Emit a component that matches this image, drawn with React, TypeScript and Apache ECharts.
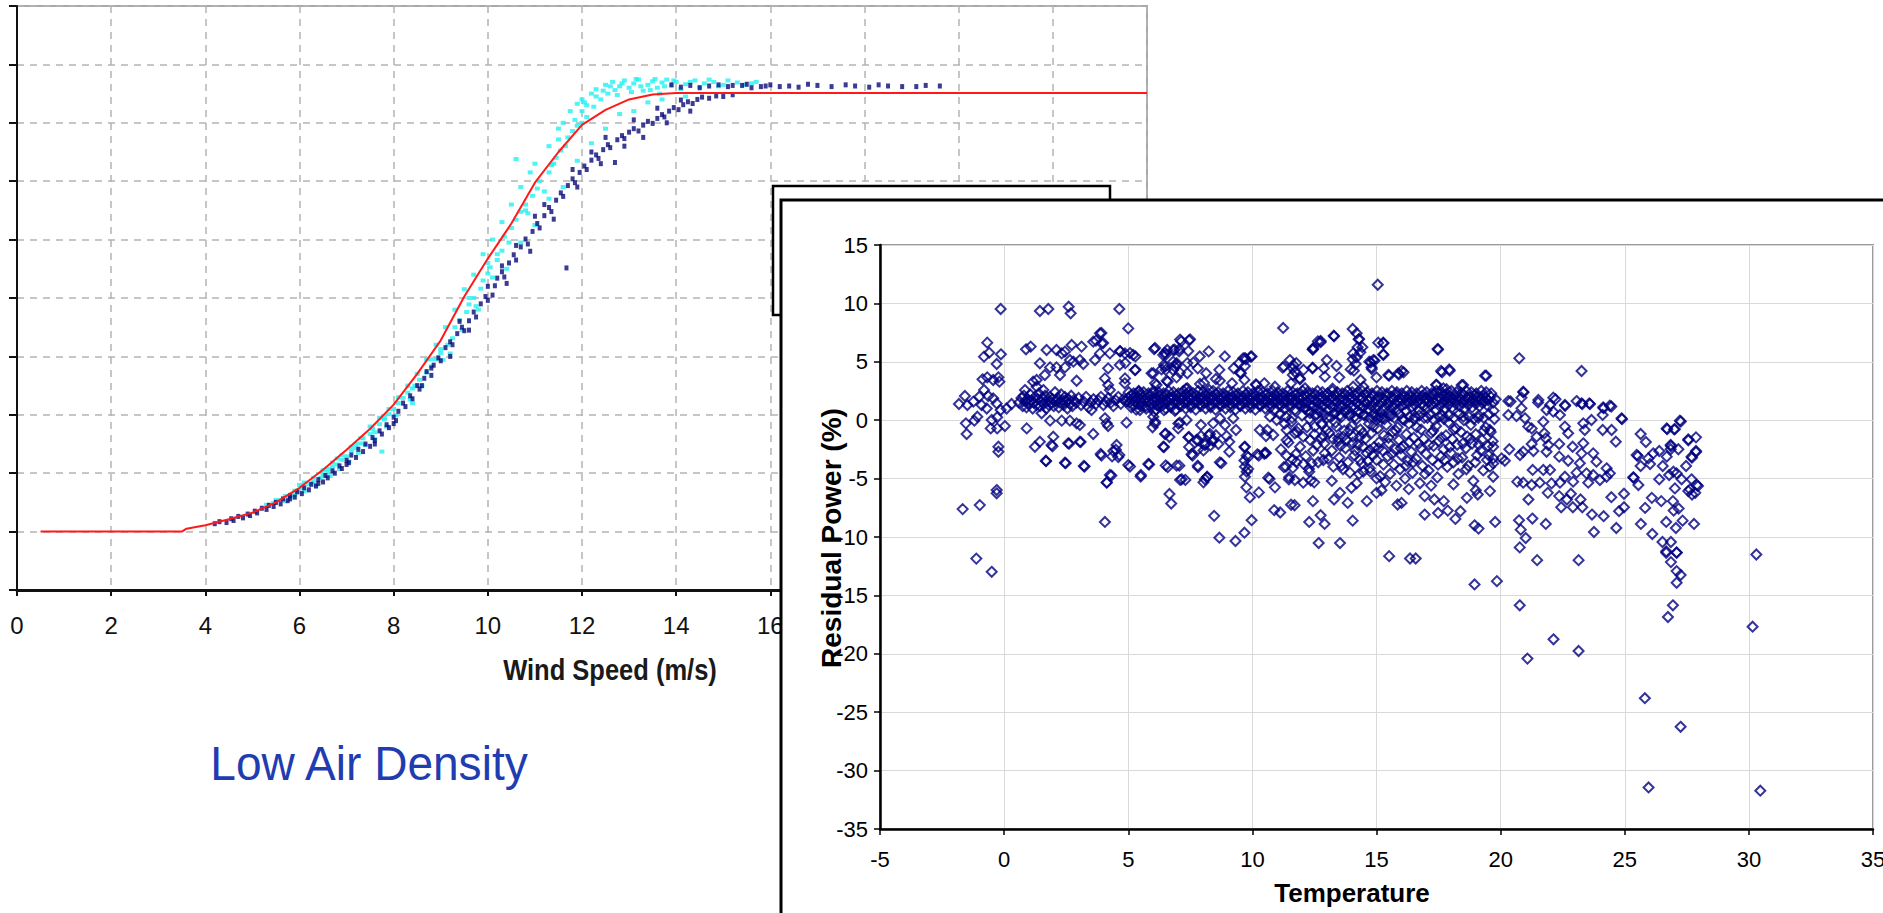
import React, { useEffect, useRef } from "react";
import * as echarts from "echarts";

// ---------- Left chart: power curve (Wind Speed m/s, Power kW) ----------
const powerCurve: number[][] = [
  [0.5, 0], [1, 0], [2, 0], [3, 0], [3.5, 0], [3.6, 10], [4, 22], [4.5, 42], [5, 65], [5.5, 100],
  [6, 150], [6.5, 212], [7, 280], [7.5, 352], [8, 435], [8.5, 540], [9, 655], [9.5, 805], [10, 935],
  [10.5, 1055], [11, 1195], [11.5, 1300], [12, 1393], [12.5, 1444], [13, 1480], [13.5, 1497],
  [14, 1502], [15, 1502], [24, 1502],
];

const cyanPoints: number[][] = [
  [5.3, 92], [5.45, 98], [5.6, 108], [5.7, 104], [5.8, 118], [5.9, 126], [5.95, 140], [6.05, 150], [6.1, 138],
  [6.2, 162], [6.3, 170], [6.35, 158], [6.45, 185], [6.5, 196], [6.6, 204], [6.65, 190], [6.7, 222], [6.8, 230],
  [6.85, 214], [6.9, 246], [7.0, 258], [7.05, 240], [7.1, 276], [7.2, 286], [7.25, 270], [7.3, 302], [7.35, 320],
  [7.4, 296], [7.5, 334], [7.55, 352], [7.6, 318], [7.7, 368], [7.75, 274], [7.8, 384], [7.85, 360], [7.9, 402],
  [8.0, 420], [8.05, 398], [8.1, 440], [8.2, 458], [8.3, 476], [8.35, 452], [8.45, 500], [8.55, 520], [8.6, 498],
  [8.7, 545], [8.8, 566], [8.9, 590], [9.0, 612], [9.05, 588], [9.15, 640], [9.25, 662], [9.3, 700], [9.4, 724],
  [9.45, 690], [9.55, 752], [9.6, 778], [9.7, 800], [9.75, 772], [9.85, 832], [9.9, 860], [10.0, 884], [10.05, 905],
  [10.1, 870], [10.2, 930], [10.3, 962], [10.35, 1010], [10.45, 990], [10.5, 1040], [10.6, 1068], [10.6, 1276],
  [10.7, 1095], [10.8, 1120], [10.85, 1090], [10.95, 1150], [11.05, 1175], [11.1, 1200], [11.2, 1165], [11.3, 1230],
  [11.35, 1255], [11.45, 1280], [11.5, 1343], [11.55, 1305], [11.65, 1320], [11.7, 1350], [11.8, 1372], [11.85, 1410],
  [11.9, 1390], [12.0, 1440], [12.05, 1470], [12.1, 1420], [12.2, 1500], [12.25, 1455], [12.3, 1515], [12.4, 1480],
  [12.5, 1530], [12.55, 1500], [12.65, 1540], [12.7, 1512], [12.8, 1525], [12.9, 1545], [13.0, 1520], [13.1, 1535],
  [13.2, 1548], [13.3, 1510], [13.4, 1530], [13.5, 1542], [13.6, 1520], [13.7, 1538], [13.8, 1548], [13.9, 1528],
  [14.0, 1540], [14.2, 1532], [14.4, 1545], [14.6, 1535], [14.8, 1540], [15.0, 1530], [15.3, 1538], [15.6, 1535],
  [6.0, 160], [6.6, 215], [7.2, 300], [7.8, 390], [8.4, 490], [9.0, 625], [9.6, 800], [10.2, 950], [10.8, 1100],
  [11.4, 1260], [12.0, 1400], [8.8, 590], [10.0, 920],
  [12.1, 1460], [12.3, 1490], [12.45, 1510], [12.6, 1525], [12.75, 1495], [12.85, 1535], [13.05, 1505], [13.15, 1550],
  [13.25, 1525], [13.45, 1512], [13.55, 1550], [13.65, 1500], [13.75, 1525], [13.95, 1545], [14.1, 1515], [14.3, 1540],
  [14.5, 1522], [14.7, 1548], [14.9, 1525], [15.1, 1545], [15.45, 1530], [15.7, 1540],
  [11.6, 1400], [11.75, 1440], [11.9, 1465], [12.0, 1480], [11.5, 1380], [11.3, 1320], [11.0, 1260], [10.9, 1230],
  [10.7, 1180], [10.5, 1120], [10.3, 1060], [10.1, 1000], [9.9, 950], [9.7, 880], [9.5, 830], [9.3, 760], [9.1, 700],
  [8.9, 640], [8.7, 590], [8.5, 540], [8.3, 500], [8.1, 460], [7.9, 420], [7.7, 390], [7.5, 360], [7.3, 320],
  [7.1, 290], [6.9, 262], [6.7, 236], [6.5, 210], [6.3, 184], [6.1, 168], [5.9, 140], [5.7, 122], [5.5, 108],
  [9.2, 610], [9.8, 760], [10.4, 900], [11.0, 1050], [11.6, 1180], [12.2, 1330], [12.8, 1430], [13.4, 1470],
  [8.4, 440], [7.6, 340], [6.8, 250], [10.7, 990], [11.3, 1140], [11.9, 1270], [12.5, 1380], [13.1, 1440],
  [13.7, 1480], [14.2, 1490],
];

const navyPoints: number[][] = [
  [4.2, 27], [4.3, 34], [4.45, 31], [4.55, 44], [4.6, 38], [4.7, 52], [4.8, 47], [4.9, 60], [4.95, 55], [5.05, 70],
  [5.1, 64], [5.2, 80], [5.3, 76], [5.35, 90], [5.45, 86], [5.5, 100], [5.6, 95], [5.65, 112], [5.75, 106], [5.8, 124],
  [5.9, 118], [5.95, 136], [6.05, 130], [6.1, 150], [6.2, 143], [6.25, 162], [6.35, 156], [6.4, 178], [6.5, 170],
  [6.55, 192], [6.6, 184], [6.7, 208], [6.75, 200], [6.85, 225], [6.9, 216], [7.0, 244], [7.05, 236], [7.1, 262],
  [7.2, 254], [7.25, 282], [7.35, 274], [7.4, 300], [7.5, 292], [7.55, 322], [7.6, 312], [7.7, 345], [7.75, 334],
  [7.85, 366], [7.9, 356],
  [8.0, 392], [8.05, 380], [8.1, 412], [8.2, 440], [8.25, 428], [8.35, 465], [8.4, 455], [8.5, 500], [8.55, 488],
  [8.65, 525], [8.7, 548], [8.8, 535], [8.85, 570], [8.95, 595], [9.0, 585], [9.1, 630], [9.2, 650], [9.25, 640],
  [9.35, 678], [9.45, 700], [9.5, 688], [9.6, 722], [9.7, 752], [9.75, 735], [9.85, 780], [9.95, 805], [10.0, 792],
  [10.1, 810], [10.15, 842], [10.2, 868], [10.3, 890], [10.35, 872], [10.45, 920], [10.55, 948], [10.6, 930],
  [10.7, 975], [10.8, 1002], [10.85, 985], [10.95, 1028], [11.05, 1055], [11.1, 1040], [11.2, 1082], [11.3, 1110],
  [11.35, 1096], [11.45, 1135], [11.55, 1160], [11.6, 1148], [11.67, 903], [11.7, 1185], [11.8, 1208], [11.85, 1195],
  [11.95, 1230], [12.05, 1252], [12.1, 1240], [12.2, 1272], [12.3, 1290], [12.35, 1278], [12.45, 1308], [12.55, 1325],
  [12.6, 1315], [12.7, 1264], [12.75, 1342], [12.85, 1356], [12.9, 1346], [13.0, 1368], [13.1, 1380], [13.2, 1372],
  [13.3, 1392], [13.4, 1405], [13.5, 1398], [13.6, 1415], [13.7, 1428], [13.75, 1420], [13.85, 1440], [13.95, 1452],
  [14.05, 1445], [14.15, 1462], [14.25, 1472], [14.35, 1466], [14.45, 1480], [14.55, 1488], [14.7, 1484],
  [14.85, 1492], [15.0, 1490], [15.2, 1496],
  [9.2, 600], [9.6, 690], [10.4, 850], [10.9, 960], [11.4, 1070], [11.9, 1180], [12.4, 1260], [12.9, 1320],
  [13.3, 1350], [13.8, 1400], [14.3, 1440], [8.6, 500], [8.0, 370], [7.6, 300], [7.0, 230], [6.4, 165], [5.8, 112],
  [10.0, 840], [10.6, 980], [11.2, 1120], [11.8, 1240], [12.5, 1350], [13.1, 1410], [13.6, 1450], [14.1, 1478],
  [9.4, 720], [8.8, 560], [12.2, 1300], [11.0, 1080], [10.3, 910],
  [13.9, 1530], [14.1, 1522], [14.3, 1528], [14.5, 1520], [14.7, 1526], [14.9, 1530], [15.1, 1524], [15.2, 1528],
  [15.4, 1528], [15.5, 1532], [15.6, 1520], [15.8, 1524], [15.9, 1526], [16.0, 1530], [16.2, 1524], [16.4, 1526],
  [16.6, 1522], [16.8, 1532], [17.0, 1528], [17.3, 1524], [17.6, 1530], [17.8, 1526], [18.1, 1522], [18.3, 1530],
  [18.5, 1526], [18.8, 1524], [19.1, 1524], [19.3, 1528], [19.6, 1526],
];

// ---------- Right chart: residual power (%) vs temperature ----------
const residBand: number[][] = [
  [0.6, 1.5], [0.7, 1.9], [0.75, 1.2], [0.8, 2.1], [0.85, 1.6], [0.9, 1.1], [0.95, 1.8], [1.0, 1.4], [1.05, 2.2],
  [1.1, 1.7], [1.15, 1.0], [1.2, 1.5], [1.25, 2.0], [1.3, 1.3], [1.35, 1.8], [1.4, 2.3], [1.45, 1.2], [1.5, 1.6],
  [1.55, 1.9], [1.6, 1.4], [1.65, 2.1], [1.7, 1.0], [1.75, 1.7], [1.8, 1.3], [1.85, 2.0], [1.9, 1.5], [1.95, 1.8],
  [2.0, 1.2], [2.05, 2.4], [2.1, 1.6], [2.15, 1.9], [2.2, 1.1], [2.25, 1.5], [2.3, 2.2], [2.35, 1.7], [2.4, 1.3],
  [2.45, 2.0], [2.5, 1.6], [2.55, 1.0], [2.6, 1.8], [2.65, 1.4], [2.7, 2.1], [2.75, 1.2], [2.8, 1.7], [2.9, 1.5],
  [3.0, 1.9], [3.1, 1.3], [3.2, 1.6], [3.3, 2.0], [3.4, 1.1], [3.5, 1.5], [3.6, 1.8], [3.7, 1.4], [3.8, 1.7],
  [3.9, 2.0], [4.0, 1.3], [4.1, 1.6], [4.2, 1.9], [4.3, 1.5], [4.4, 1.2], [4.5, 1.7], [4.6, 2.0], [4.7, 1.4],
  [4.8, 1.8], [4.9, 1.6],
  [5.0, 1.9], [5.05, 1.5], [5.1, 2.1], [5.15, 1.7], [5.2, 1.3], [5.25, 2.0], [5.3, 1.6], [5.35, 1.9], [5.4, 1.4],
  [5.45, 2.2], [5.5, 1.8], [5.55, 1.5], [5.6, 2.0], [5.65, 1.7], [5.7, 1.2], [5.75, 1.9], [5.8, 1.6], [5.85, 2.1],
  [5.9, 1.4], [5.95, 1.8], [6.0, 2.3], [6.05, 1.6], [6.1, 1.9], [6.15, 1.3], [6.2, 1.7], [6.25, 2.1], [6.3, 1.5],
  [6.35, 1.8], [6.4, 2.0], [6.45, 1.4], [6.5, 1.7], [6.55, 2.2], [6.6, 1.6], [6.65, 1.9], [6.7, 1.3], [6.75, 1.8],
  [6.8, 2.0], [6.85, 1.5], [6.9, 1.7], [6.95, 2.1], [7.0, 1.6], [7.05, 1.9], [7.1, 1.4], [7.15, 1.8], [7.2, 2.0],
  [7.25, 1.5], [7.3, 1.7], [7.35, 2.2], [7.4, 1.6], [7.45, 1.9], [7.5, 1.3], [7.55, 1.8], [7.6, 2.0], [7.65, 1.5],
  [7.7, 1.7], [7.75, 2.1], [7.8, 1.6], [7.85, 1.9], [7.9, 1.4], [7.95, 1.8], [8.0, 2.0], [8.05, 1.5], [8.1, 1.7],
  [8.15, 2.1], [8.2, 1.6], [8.25, 1.9], [8.3, 1.3], [8.35, 1.8], [8.4, 2.0], [8.45, 1.5], [8.5, 1.7], [8.55, 2.2],
  [8.6, 1.6], [8.65, 1.9], [8.7, 1.4], [8.75, 1.8], [8.8, 2.0], [8.85, 1.5], [8.9, 1.7], [8.95, 2.1], [9.0, 1.6],
  [9.05, 1.9], [9.1, 1.4], [9.15, 1.8], [9.2, 2.0], [9.25, 1.5], [9.3, 1.7], [9.35, 2.1], [9.4, 1.6], [9.45, 1.9],
  [9.5, 1.3], [9.55, 1.8], [9.6, 2.0], [9.65, 1.5], [9.7, 1.7], [9.75, 2.2], [9.8, 1.6], [9.85, 1.9], [9.9, 1.4],
  [9.95, 1.8],
  [10.0, 2.0], [10.05, 1.5], [10.1, 1.7], [10.15, 2.1], [10.2, 1.6], [10.25, 1.9], [10.3, 1.3], [10.35, 1.8],
  [10.4, 2.0], [10.45, 1.5], [10.5, 1.7], [10.55, 2.2], [10.6, 1.6], [10.65, 1.9], [10.7, 1.4], [10.75, 1.8],
  [10.8, 2.0], [10.85, 1.5], [10.9, 1.7], [10.95, 2.1], [11.0, 1.6], [11.05, 1.9], [11.1, 1.4], [11.15, 1.8],
  [11.2, 2.0], [11.25, 1.5], [11.3, 1.7], [11.35, 2.1], [11.4, 1.6], [11.45, 1.9], [11.5, 1.3], [11.55, 1.8],
  [11.6, 2.0], [11.65, 1.5], [11.7, 1.7], [11.75, 2.2], [11.8, 1.6], [11.85, 1.9], [11.9, 1.4], [11.95, 1.8],
  [12.0, 2.0], [12.05, 1.5], [12.1, 1.1], [12.15, 2.1], [12.2, 1.6], [12.25, 0.9], [12.3, 1.3], [12.35, 1.8],
  [12.4, 2.0], [12.45, 1.2], [12.5, 1.7], [12.55, 2.2], [12.6, 1.6], [12.65, 1.0], [12.7, 1.4], [12.75, 1.8],
  [12.8, 2.0], [12.85, 1.2], [12.9, 1.7], [12.95, 2.1], [13.0, 1.6], [13.05, 0.9], [13.1, 1.4], [13.15, 1.8],
  [13.2, 2.0], [13.25, 1.1], [13.3, 1.7], [13.35, 2.1], [13.4, 1.6], [13.45, 1.0], [13.5, 1.3], [13.55, 1.8],
  [13.6, 2.0], [13.65, 1.2], [13.7, 1.7], [13.75, 2.2], [13.8, 1.6], [13.85, 0.9], [13.9, 1.4], [13.95, 1.8],
  [14.0, 2.0], [14.05, 1.2], [14.1, 1.7], [14.15, 2.1], [14.2, 1.5], [14.25, 0.8], [14.3, 1.3], [14.35, 1.8],
  [14.4, 2.0], [14.45, 1.1], [14.5, 1.6], [14.55, 2.2], [14.6, 1.4], [14.65, 0.9], [14.7, 1.7], [14.75, 1.9],
  [14.8, 1.2], [14.85, 2.1], [14.9, 1.5], [14.95, 1.0],
  [15.0, 1.8], [15.05, 1.2], [15.1, 2.0], [15.15, 0.7], [15.2, 1.5], [15.25, 1.9], [15.3, 1.0], [15.35, 1.7],
  [15.4, 2.1], [15.45, 1.3], [15.5, 0.8], [15.55, 1.6], [15.6, 2.0], [15.65, 1.1], [15.7, 1.8], [15.75, 1.4],
  [15.8, 2.2], [15.85, 0.9], [15.9, 1.6], [15.95, 1.9], [16.0, 1.2], [16.05, 1.7], [16.1, 2.0], [16.15, 1.4],
  [16.2, 0.8], [16.25, 1.8], [16.3, 1.5], [16.35, 2.1], [16.4, 1.1], [16.45, 1.7], [16.5, 1.9], [16.55, 1.3],
  [16.6, 2.0], [16.65, 1.6], [16.7, 0.9], [16.75, 1.8], [16.8, 1.4], [16.85, 2.1], [16.9, 1.2], [16.95, 1.7],
  [17.0, 1.9], [17.05, 1.0], [17.1, 1.6], [17.15, 2.0], [17.2, 1.3], [17.25, 1.8], [17.3, 2.2], [17.35, 1.5],
  [17.4, 0.9], [17.45, 1.7], [17.5, 2.0], [17.55, 1.2], [17.6, 1.8], [17.65, 1.5], [17.7, 2.1], [17.75, 1.0],
  [17.8, 1.7], [17.85, 1.9], [17.9, 1.3], [17.95, 2.0], [18.0, 1.6], [18.05, 1.1], [18.1, 1.8], [18.15, 2.1],
  [18.2, 1.4], [18.25, 1.7], [18.3, 2.0], [18.35, 1.2], [18.4, 1.8], [18.45, 1.5], [18.5, 2.2], [18.55, 1.0],
  [18.6, 1.7], [18.65, 1.9], [18.7, 1.3], [18.75, 2.0], [18.8, 1.6], [18.85, 1.1], [18.9, 1.8], [18.95, 2.1],
  [19.0, 1.4], [19.05, 1.7], [19.1, 2.0], [19.15, 1.2], [19.2, 1.8], [19.25, 1.5], [19.3, 2.1], [19.35, 1.6],
  [19.4, 1.9], [19.45, 1.3], [19.5, 1.7], [19.6, 2.0], [19.7, 1.5], [19.8, 1.8],
];

const residBandEdge: number[][] = [
  [5.02, 2.4], [5.12, 1.1], [5.22, 2.3], [5.32, 0.9], [5.42, 2.5], [5.52, 1.2], [5.62, 2.4], [5.72, 1.0], [5.82, 2.3],
  [5.92, 1.1], [6.02, 2.5], [6.12, 0.9], [6.22, 2.4], [6.32, 1.2], [6.42, 2.3], [6.52, 1.0], [6.62, 2.5], [6.72, 1.1],
  [6.82, 2.4], [6.92, 0.9], [7.02, 2.3], [7.12, 1.2], [7.22, 2.5], [7.32, 1.0], [7.42, 2.4], [7.52, 1.1], [7.62, 2.3],
  [7.72, 0.9], [7.82, 2.5], [7.92, 1.2], [8.02, 2.4], [8.12, 1.0], [8.22, 2.3], [8.32, 1.1], [8.42, 2.5], [8.52, 0.9],
  [8.62, 2.4], [8.72, 1.2], [8.82, 2.3], [8.92, 1.0], [9.02, 2.5], [9.12, 1.1], [9.22, 2.4], [9.32, 0.9], [9.42, 2.3],
  [9.52, 1.2], [9.62, 2.5], [9.72, 1.0], [9.82, 2.4], [9.92, 1.1], [10.02, 2.3], [10.12, 0.9], [10.22, 2.5],
  [10.32, 1.2], [10.42, 2.4], [10.52, 1.0], [10.62, 2.3], [10.72, 1.1], [10.82, 2.5], [10.92, 0.9], [11.02, 2.4],
  [11.12, 1.2], [11.22, 2.3], [11.32, 1.0], [11.42, 2.5], [11.52, 1.1], [11.62, 2.4], [11.72, 0.9], [11.82, 2.3],
  [11.92, 1.2], [12.02, 2.5], [12.12, 1.0], [12.22, 2.4], [12.32, 0.6], [12.42, 2.3], [12.52, 0.4], [12.62, 2.5],
  [12.72, 0.7], [12.82, 2.4], [12.92, 0.5], [13.02, 2.3], [13.12, 0.3], [13.22, 2.5], [13.32, 0.6], [13.42, 2.4],
  [13.52, 0.4], [13.62, 2.3], [13.72, 0.7], [13.82, 2.5], [13.92, 0.5], [14.02, 2.4], [14.12, 0.3], [14.22, 2.3],
  [14.32, 0.6], [14.42, 2.5], [14.52, 0.4], [14.62, 2.4], [14.72, 0.2], [14.82, 2.3], [14.92, 0.5], [15.02, 2.5],
  [15.12, 0.3], [15.22, 2.4], [15.32, 0.1], [15.42, 2.3], [15.52, 0.4], [15.62, 2.5], [15.72, 0.2], [15.82, 2.4],
  [15.92, 0.5], [16.02, 2.3], [16.12, 0.0], [16.22, 2.5], [16.32, 0.3], [16.42, 2.4], [16.52, 0.1], [16.62, 2.3],
  [16.72, 0.4], [16.82, 2.5], [16.92, 0.2], [17.02, 2.4], [17.12, 0.5], [17.22, 2.3], [17.32, 0.0], [17.42, 2.5],
  [17.52, 0.3], [17.62, 2.4], [17.72, 0.1], [17.82, 2.3], [17.92, 0.4], [18.02, 2.5], [18.12, 0.2], [18.22, 2.4],
  [18.32, 0.5], [18.42, 2.3], [18.52, 0.0], [18.62, 2.5], [18.72, 0.3], [18.82, 2.4], [18.92, 0.1], [19.02, 2.3],
  [19.12, 0.4], [19.22, 2.5], [19.32, 0.2], [19.42, 2.4], [19.52, 0.5], [19.62, 2.3], [19.72, 0.8],
];

const residUpper: number[][] = [
  [-0.14, 9.52], [1.44, 9.35], [1.78, 9.52], [2.6, 9.72], [2.68, 9.15], [4.64, 9.52], [5.0, 7.86], [-0.68, 6.64],
  [-0.6, 5.78], [-0.81, 5.44], [-0.13, 5.64], [-0.3, 4.81], [-0.87, 3.5], [-0.68, 3.67], [-0.44, 3.44], [-0.23, 3.67],
  [-0.19, 3.3], [-1.0, 2.01], [-0.81, 2.58], [-0.64, 2.07], [-0.44, 1.87], [-1.58, 2.07], [-1.82, 1.39], [-1.48, 1.3],
  [-1.24, 1.59], [-0.91, 1.3], [-0.7, 1.0], [-0.3, 1.44], [-0.14, 0.87], [0.1, 1.0], [0.3, 1.39], [0.84, 2.58],
  [0.88, 6.07], [1.07, 6.3], [1.31, 3.44], [1.44, 4.87], [1.64, 3.87], [1.71, 6.01], [2.11, 6.01], [2.32, 5.72],
  [2.45, 5.87], [2.72, 6.44], [3.12, 6.3], [2.65, 5.15], [2.79, 5.01], [3.05, 5.15], [3.19, 4.81], [1.85, 4.52],
  [2.11, 4.52], [2.45, 4.52], [2.25, 3.87], [2.92, 3.38], [1.17, 3.3], [1.31, 2.87], [1.58, 2.58], [3.59, 6.72],
  [3.86, 7.44], [3.93, 6.58], [3.66, 5.15], [3.86, 5.72], [4.26, 5.72], [4.66, 5.92], [4.87, 5.72], [4.19, 4.44],
  [4.66, 4.73], [4.87, 3.58], [4.06, 3.58], [4.19, 3.01], [4.26, 2.58], [3.92, 7.47], [3.7, 6.81], [3.99, 6.61],
  [4.68, 5.89], [5.07, 5.75], [5.29, 5.46], [5.29, 4.31], [4.88, 4.89], [4.86, 3.16], [5.43, 2.44],
  [6.08, 6.18], [6.01, 4.02], [6.08, 3.16], [6.51, 5.6], [6.44, 4.74], [6.51, 4.31], [6.87, 4.6], [6.95, 4.89],
  [7.05, 5.89], [7.09, 6.9], [7.13, 6.75], [6.87, 6.03], [7.38, 4.89], [7.38, 4.02], [6.59, 3.3], [7.38, 2.73],
  [7.45, 6.84], [7.88, 5.46], [8.24, 5.89], [8.89, 5.46], [9.25, 4.45], [9.47, 4.89], [9.7, 5.32], [9.97, 5.46],
  [9.54, 4.02], [9.68, 3.45], [10.16, 3.02], [9.18, 3.16], [8.67, 4.31], [8.14, 4.02], [11.24, 7.9], [11.27, 4.6],
  [11.63, 4.45], [11.63, 3.88], [11.77, 4.89], [11.91, 3.59], [12.06, 4.31], [12.42, 4.45], [12.46, 6.18],
  [12.64, 6.75], [11.56, 3.16], [10.91, 2.87], [10.48, 3.16],
  [5.2, 5.58], [5.27, 4.3], [6.04, 6.09], [5.94, 4.01], [6.41, 5.58], [6.48, 5.78], [6.57, 6.01], [6.81, 6.01],
  [7.06, 6.09], [7.49, 6.92], [7.42, 5.92], [6.81, 5.01], [6.95, 4.73], [6.34, 4.35], [6.48, 4.58], [6.81, 4.3],
  [7.08, 4.07], [6.95, 3.67], [6.55, 3.38], [6.14, 3.01], [7.62, 4.93], [7.8, 4.44], [7.33, 2.7], [7.89, 3.1],
  [8.05, 3.21], [8.53, 3.53], [8.69, 3.38], [8.26, 2.59], [9.5, 4.07], [9.7, 4.64], [9.74, 5.21], [9.93, 5.44],
  [9.63, 5.3], [10.14, 3.07], [11.51, 5.15], [11.65, 4.73], [11.22, 4.5], [11.71, 4.15], [11.92, 3.5], [12.12, 2.73],
  [12.43, 6.07], [12.75, 6.78], [13.28, 7.24], [12.43, 4.5], [13.0, 5.15], [12.88, 4.44], [12.92, 3.73],
  [13.39, 4.64], [13.5, 3.67], [13.23, 2.7], [14.04, 7.81], [14.2, 7.44], [14.28, 6.92], [14.24, 6.24],
  [14.06, 5.72], [14.04, 5.21], [13.96, 4.35], [14.71, 5.01], [14.87, 5.15], [14.8, 4.53], [14.36, 3.44],
  [14.06, 2.87], [14.47, 2.87], [15.07, 6.64],
  [15.05, 11.6], [15.27, 6.64], [15.27, 5.64], [17.46, 6.09], [17.6, 4.21], [17.93, 4.35], [15.88, 4.01],
  [16.01, 4.21], [15.48, 3.87], [19.37, 3.81], [20.75, 5.3], [23.26, 4.21], [17.42, 3.01], [17.69, 2.73],
  [18.43, 3.01], [20.91, 2.44], [20.84, 1.93], [22.12, 1.93], [21.52, 1.73], [23.06, 1.64], [23.26, 1.44],
  [23.57, 1.44], [24.4, 1.24], [24.13, 1.1], [22.59, 1.3], [20.31, 1.64], [17.48, 6.05], [14.3, 6.96], [14.43, 6.25],
  [14.35, 5.82], [14.2, 5.39], [14.16, 4.81], [14.09, 4.24], [15.28, 6.59], [15.28, 5.59], [17.64, 4.1],
  [17.95, 4.24], [19.42, 3.81], [18.49, 3.01], [17.82, 2.66], [17.4, 3.04], [13.29, 7.19], [12.75, 6.68],
  [12.44, 6.05], [15.9, 3.9], [16.09, 4.1], [15.51, 3.81], [15.0, 3.67], [14.77, 4.96], [14.92, 5.1], [14.81, 4.38],
  [20.4, 1.6], [20.92, 2.38], [21.51, 1.52], [22.21, 1.8], [22.6, 1.23], [23.29, 1.38], [23.6, 1.38], [24.15, 1.03],
  [24.46, 1.17],
];

const residLower: number[][] = [
  [-1.54, -0.27], [-1.2, -0.04], [-1.08, 0.3], [-0.5, 0.02], [-0.28, 0.25], [0.03, -0.5], [-0.28, -0.7],
  [-0.54, -0.7], [-1.51, -1.18], [-0.23, -2.27], [-0.23, -2.7], [-0.3, -5.98], [0.91, -0.7], [1.51, 0.59],
  [1.85, -0.04], [2.32, -0.04], [2.65, -0.04], [2.92, -0.27], [3.05, -0.41], [3.59, -1.18], [4.06, 0.16],
  [4.13, -0.27], [4.19, -0.5], [4.93, -0.21], [3.52, 0.87], [1.24, -2.27], [1.44, -1.84], [1.98, -1.41],
  [1.91, -2.12], [2.58, -1.98], [3.05, -1.84], [1.68, -3.47], [2.45, -3.64], [3.21, -3.92], [3.89, -2.89],
  [4.4, -2.64], [4.53, -2.12], [4.64, -2.98], [5.0, -3.84], [4.26, -4.69], [4.13, -5.35], [-1.67, -7.61],
  [-0.98, -7.27], [-0.3, -6.26], [4.06, -8.71], [5.5, -4.83], [5.84, -3.79], [5.07, -3.97], [4.32, -4.74],
  [4.14, -5.32], [3.24, -3.97], [2.48, -3.68], [3.08, -1.87], [2.62, -2.01], [1.95, -2.24], [1.69, -3.51],
  [3.92, -3.02], [4.35, -3.1], [4.5, -2.53], [4.6, -3.16],
  [6.01, 0.29], [6.44, 0.86], [6.08, -0.29], [6.51, -1.15], [6.44, -2.3], [6.66, -1.44], [7.02, -0.29],
  [7.45, -1.44], [7.45, -2.3], [7.59, -3.02], [7.81, -1.72], [8.1, -2.01], [8.03, -2.59], [8.31, -2.16],
  [8.43, -1.72], [8.24, -1.29], [8.53, -1.29], [6.51, -3.88], [6.59, -4.02], [6.66, -6.32], [6.73, -7.13],
  [7.09, -5.11], [7.3, -5.11], [7.81, -4.02], [8.03, -5.32], [8.17, -4.89], [8.46, -8.19], [8.67, -10.06],
  [8.75, -3.68], [9.32, -10.34], [9.68, -9.63], [9.76, -5.75], [9.9, -6.61], [9.97, -8.56], [10.26, -6.18],
  [9.83, -4.17], [9.68, -3.45], [9.83, -3.16], [9.68, -2.3], [10.26, -3.02], [10.48, -2.87], [10.55, -2.82],
  [10.69, -5.03], [10.91, -5.75], [10.88, -7.7], [11.12, -7.9], [11.56, -7.24], [11.27, -4.02], [11.48, -4.89],
  [11.63, -4.08], [11.77, -3.59], [12.06, -3.74], [12.28, -4.17], [12.35, -5.17], [12.49, -5.32],
  [5.47, 0.87], [6.04, 0.73], [6.08, -0.13], [5.98, -0.61], [6.48, -1.18], [6.41, -2.27], [6.88, 0.8],
  [7.08, -0.21], [7.01, -0.7], [7.35, 0.02], [7.42, -1.47], [7.55, -2.92], [7.82, -2.49], [7.75, -1.69],
  [7.93, -0.41], [7.93, -1.35], [8.29, -1.18], [8.09, -2.12], [8.4, -1.75], [8.63, -2.04], [8.42, -0.27],
  [8.69, 0.16], [8.9, -0.41], [8.96, -1.35], [9.07, -1.84], [9.23, 0.16], [9.34, -0.84], [9.7, -2.27],
  [9.77, -3.04], [9.7, -3.98], [9.77, -4.41], [10.2, -2.92], [10.51, -2.78], [10.3, -0.84], [10.55, -1.35],
  [10.6, -0.84], [10.84, -1.27], [10.98, 0.02], [10.71, 0.3], [11.35, 0.3], [11.38, -0.84], [11.58, -0.13],
  [11.38, -1.69], [11.71, -1.12], [11.85, -0.7], [12.05, -1.41], [11.92, -2.27], [12.32, -1.69], [12.52, -0.55],
  [12.79, -0.27], [12.99, -0.84], [12.79, -1.55], [12.59, -2.12], [12.92, -2.84], [13.39, -0.55], [13.46, -1.55],
  [13.66, -1.41], [13.93, -0.84], [14.04, -1.92], [14.33, -1.41], [14.47, -2.27], [14.73, -2.55], [14.87, -0.55],
  [15.07, 0.16], [5.81, -3.75], [5.51, -4.69], [6.95, -3.89], [7.06, -3.89], [7.15, -5.06], [7.8, -3.89],
  [8.09, -5.06], [8.18, -4.84], [8.69, -3.61], [9.07, -2.7], [9.7, -4.84], [10.64, -4.92], [11.38, -3.04],
  [11.35, -3.98], [11.62, -3.35], [11.71, -5.12], [12.05, -5.35], [12.29, -4.41], [12.39, -3.69], [12.86, -3.41],
  [13.26, -3.98], [13.59, -3.89], [13.93, -4.49], [14.33, -3.41], [14.47, -4.41], [14.73, -4.12], [15.0, -4.98],
  [11.1, 0.5], [11.3, -0.3], [11.6, 0.2], [11.8, -1.0], [12.0, 0.4], [12.2, -0.6], [12.3, 0.1], [12.5, -1.2],
  [12.6, 0.5], [12.8, -0.4], [12.9, -2.0], [13.0, 0.2], [13.1, -1.1], [13.2, -2.6], [13.3, 0.6], [13.35, -0.2],
  [13.45, -1.8], [13.5, -3.2], [13.6, 0.3], [13.7, -0.9], [13.75, -2.4], [13.85, -3.6], [13.9, 0.4], [14.0, -0.5],
  [14.05, -1.4], [14.1, -3.0], [14.2, 0.1], [14.25, -2.1], [14.35, -0.8], [14.4, -3.7], [14.5, 0.5], [14.55, -1.6],
  [14.6, -2.8], [14.7, -0.3], [14.75, -4.4], [14.8, -1.1], [14.9, -2.3], [14.95, 0.3], [15.0, -3.4], [15.05, -0.7],
  [15.1, -1.9], [15.15, -4.8], [15.2, 0.2], [15.25, -2.6], [15.3, -1.3], [15.35, -5.3], [15.4, -0.4], [15.45, -3.1],
  [15.5, -2.0], [15.55, -4.6], [15.6, 0.4], [15.65, -1.0], [15.7, -3.8], [15.75, -2.5], [15.8, -5.6], [15.85, -0.6],
  [15.9, -1.7], [15.95, -4.2], [16.0, -3.0], [16.05, 0.1], [16.1, -2.2], [16.15, -5.0], [16.2, -1.2], [16.25, -3.5],
  [16.3, -0.3], [16.4, -2.7], [16.45, -4.5], [16.5, -1.5], [16.55, 0.3], [16.6, -3.3], [16.7, -2.0], [16.75, -5.4],
  [16.8, -0.8], [16.85, -3.9], [16.9, -1.6], [17.0, -2.9], [17.05, 0.2], [17.1, -4.3], [17.2, -1.1], [17.25, -3.4],
  [17.3, -2.2], [17.4, -0.5], [17.45, -4.9], [17.5, -1.8], [17.6, -3.1], [17.65, 0.4], [17.7, -2.5], [17.8, -1.3],
  [17.85, -4.0], [17.9, -0.2], [18.0, -2.8], [18.05, -1.6], [18.1, -3.6], [18.2, -0.7], [18.25, -2.1], [18.3, -4.6],
  [18.4, -1.0], [18.45, -3.2], [18.5, 0.3], [18.6, -2.4], [18.65, -1.4], [18.7, -3.9], [18.8, -0.4], [18.85, -2.0],
  [18.9, -5.2], [19.0, -1.2], [19.05, -3.0], [19.1, 0.2], [19.2, -2.6], [19.25, -1.7], [19.3, -4.3], [19.4, -0.6],
  [19.45, -3.4], [19.5, -2.2], [19.6, -1.0], [19.7, -3.7], [19.75, 0.1],
  [11.15, -2.5], [11.45, -1.9], [11.75, -2.9], [12.15, -3.1], [12.45, -2.6], [12.65, -3.6], [12.85, -1.3],
  [13.05, -3.3], [13.25, -1.6], [13.55, -2.2], [13.65, -4.2], [13.8, -1.7], [14.15, -2.6], [14.3, -4.6],
  [14.45, -1.1], [14.65, -3.5], [14.85, -3.0], [15.08, -2.4], [15.28, -3.8], [15.48, -1.5], [15.62, -2.9],
  [15.78, -0.9], [15.98, -2.4], [16.18, -3.9], [16.32, -1.9], [16.48, -3.6], [16.62, -0.6], [16.78, -2.4],
  [16.95, -4.6], [17.12, -2.1], [17.28, -0.9], [17.48, -3.8], [17.62, -1.5], [17.75, -3.4], [17.95, -2.3],
  [18.12, -0.8], [18.28, -3.3], [18.48, -2.0], [18.62, -4.2], [18.78, -1.6], [18.98, -3.6], [19.12, -2.1],
  [19.32, -0.9], [19.52, -3.0], [19.68, -1.8], [15.2, -6.0], [16.3, -5.9], [17.2, -5.6], [18.1, -5.5], [19.0, -6.0],
  [14.2, -5.4], [13.2, -5.2],
  [20.31, 0.45], [20.64, 0.36], [20.84, 1.02], [20.98, 0.16], [21.11, -0.55], [21.25, -0.7], [21.72, -0.13],
  [21.76, -1.12], [21.45, -1.41], [21.82, -1.55], [22.59, -0.55], [22.72, -1.12], [22.12, 0.73], [21.85, 0.87],
  [21.99, 1.3], [22.39, 0.45], [22.9, -2.27], [23.33, -0.27], [23.66, 0.02], [23.39, -0.84], [24.11, -0.84],
  [24.47, -0.84], [24.11, 0.45], [24.87, 0.16], [24.64, -1.84], [21.25, -2.04], [21.92, -2.12], [22.36, -2.04],
  [23.33, -1.98], [23.26, -2.84], [23.73, -2.84], [20.35, -2.49], [20.91, -2.7], [21.32, -2.64], [21.85, -2.7],
  [22.36, -3.12], [22.72, -3.47], [23.19, -3.69], [23.86, -3.55], [24.27, -4.12], [24.4, -4.55], [23.73, -4.69],
  [23.46, -4.55], [23.06, -4.49], [22.59, -4.84], [21.99, -4.26], [21.72, -4.26], [21.29, -4.26], [20.78, -2.98],
  [20.67, -5.26], [20.91, -5.35], [21.25, -5.55], [21.58, -5.35], [22.05, -5.41], [22.39, -5.35], [22.92, -5.26],
  [23.53, -5.35], [24.0, -5.12], [24.27, -4.84], [19.57, -0.84], [19.7, -2.27], [19.7, -3.27], [20.04, -3.27],
  [20.17, -3.47], [19.57, -3.98], [19.7, -4.84],
  [27.22, -0.04], [26.69, -0.7], [26.99, -0.78], [25.64, -1.18], [25.85, -1.87], [27.56, -1.64], [27.87, -1.47],
  [26.85, -2.12], [26.85, -2.49], [27.16, -2.49], [26.39, -2.64], [26.15, -2.84], [26.69, -3.12], [27.87, -2.64],
  [27.69, -3.12], [25.48, -2.98], [25.95, -3.27], [26.02, -3.75], [25.64, -3.92], [26.53, -3.92], [27.47, -3.92],
  [26.96, -4.41], [27.09, -4.55], [26.79, -4.69], [26.39, -5.06], [27.29, -5.06], [27.69, -5.06], [27.9, -5.55],
  [25.34, -4.89], [25.55, -5.55], [27.02, -5.84], [27.63, -5.92], [24.89, 0.09], [25.53, -3.07], [26.71, -0.77],
  [27.02, -0.77], [27.26, -0.11], [26.86, -2.21], [27.56, -1.72], [27.87, -2.72], [27.71, -3.21],
  [11.47, -5.07], [11.7, -7.28], [12.44, -6.93], [12.29, -8.71], [12.75, -8.14], [12.91, -8.88], [12.67, -10.52],
  [13.53, -10.52], [13.29, -6.79], [13.53, -6.22], [13.84, -7.08], [14.04, -8.6], [13.99, -5.79], [14.61, -6.93],
  [15.0, -6.22], [15.85, -7.22], [16.01, -7.08], [16.94, -6.5], [16.94, -8.08], [17.33, -6.79], [17.48, -7.94],
  [17.71, -6.93], [17.87, -7.74], [18.18, -8.45], [18.38, -7.79], [18.64, -6.65], [18.95, -9.0], [19.11, -9.28],
  [19.08, -6.36], [19.78, -8.71], [19.57, -6.07], [20.74, -8.57], [20.77, -10.89], [20.81, -9.37], [21.01, -10.09],
  [21.12, -6.79], [21.28, -8.42], [21.82, -8.88], [21.9, -6.22], [22.36, -6.5], [22.44, -7.45], [22.67, -6.79],
  [22.83, -6.3], [22.91, -7.45], [23.22, -6.79], [23.29, -7.45], [23.68, -8.08], [23.76, -9.57], [24.15, -8.22],
  [24.46, -6.59], [24.66, -9.23], [24.77, -7.79], [24.97, -7.45], [24.97, -6.3], [25.36, -4.93], [25.65, -8.88],
  [25.82, -7.51], [26.09, -6.65], [26.11, -9.74], [26.47, -6.93], [26.52, -10.43], [26.67, -8.71], [26.67, -11.23],
  [26.86, -10.43], [26.94, -6.93], [26.97, -7.74], [27.06, -9.23], [27.09, -11.32], [27.17, -7.56], [27.33, -8.6],
  [27.56, -6.07], [27.71, -6.36], [27.79, -8.88], [27.84, -6.22], [27.95, -5.64],
];

const residOutliers: number[][] = [
  [-1.12, -11.85], [-0.5, -12.98], [15.51, -11.64], [16.35, -11.84], [16.58, -11.84], [18.95, -14.06],
  [19.85, -13.78], [20.77, -15.85], [21.47, -11.98], [23.14, -11.98], [22.13, -18.76], [23.14, -19.76],
  [21.08, -20.41], [25.81, -23.8], [27.25, -26.25], [25.96, -31.44], [30.46, -31.72], [30.15, -17.68],
  [30.3, -11.5], [26.94, -15.85], [26.74, -16.85], [27.09, -13.92], [27.09, -12.92], [27.25, -13.26],
  [26.86, -12.15], [26.67, -11.35], [27.09, -11.35],
];

const LEFT_FONT = "'Liberation Sans Narrow', 'Arial Narrow', 'Liberation Sans', Arial, sans-serif";
const RIGHT_FONT = "'Liberation Sans', Arial, sans-serif";

export default function App() {
  const ref = useRef<HTMLDivElement>(null);

  useEffect(() => {
    if (!ref.current) return;
    const chart = echarts.init(ref.current, undefined, { renderer: "svg" });
    const residAll = [...residBand, ...residBandEdge, ...residUpper, ...residLower, ...residOutliers];

    const option: any = {
      animation: false,
      backgroundColor: "#ffffff",
      grid: [
        {
          left: 17, top: 6, width: 1130, height: 584, show: true,
          borderColor: "#a8a8a8", borderWidth: 2, backgroundColor: "#ffffff",
          z: 0, outerBoundsMode: "none", containLabel: false,
        },
        {
          left: 880, top: 245, width: 993, height: 584, show: true,
          borderColor: "#9a9a9a", borderWidth: 2, backgroundColor: "#ffffff",
          z: 30, outerBoundsMode: "none", containLabel: false,
        },
      ],
      xAxis: [
        {
          gridIndex: 0, type: "value", min: 0, max: 24, interval: 2, z: 1,
          axisLine: { show: true, onZero: false, lineStyle: { color: "#111", width: 3 } },
          axisTick: { show: true, length: 6, lineStyle: { color: "#111", width: 2 } },
          axisLabel: { margin: 23, fontSize: 24, color: "#111", fontFamily: LEFT_FONT },
          splitLine: { show: true, lineStyle: { color: "#b4b4b4", width: 1.5, type: [7, 6] } },
        },
        {
          gridIndex: 1, type: "value", min: -5, max: 35, interval: 5, z: 31,
          axisLine: { show: true, onZero: false, lineStyle: { color: "#000", width: 2.5 } },
          axisTick: { show: true, length: 6, lineStyle: { color: "#000", width: 1.5 } },
          axisLabel: { margin: 19, fontSize: 22, color: "#000", fontFamily: RIGHT_FONT },
          splitLine: { show: true, lineStyle: { color: "#d9d9d9", width: 1 } },
        },
      ],
      yAxis: [
        {
          gridIndex: 0, type: "value", min: -200, max: 1800, interval: 200, z: 1,
          axisLine: { show: true, onZero: false, lineStyle: { color: "#111", width: 2 } },
          axisTick: { show: true, length: 8, lineStyle: { color: "#111", width: 2 } },
          axisLabel: { show: false },
          splitLine: { show: true, lineStyle: { color: "#b4b4b4", width: 1.5, type: [7, 6] } },
        },
        {
          gridIndex: 1, type: "value", min: -35, max: 15, interval: 5, z: 31,
          axisLine: { show: true, onZero: false, lineStyle: { color: "#000", width: 2.5 } },
          axisTick: { show: true, length: 6, lineStyle: { color: "#000", width: 1.5 } },
          axisLabel: { margin: 12, fontSize: 22, color: "#000", fontFamily: RIGHT_FONT },
          splitLine: { show: true, lineStyle: { color: "#d9d9d9", width: 1 } },
        },
      ],
      series: [
        {
          type: "scatter", xAxisIndex: 0, yAxisIndex: 0, data: cyanPoints, z: 2,
          symbol: "rect", symbolSize: [5, 4], itemStyle: { color: "#22f0f0" }, silent: true,
        },
        {
          type: "scatter", xAxisIndex: 0, yAxisIndex: 0, data: navyPoints, z: 3,
          symbol: "rect", symbolSize: [4, 5], itemStyle: { color: "#0a0a78" }, silent: true,
        },
        {
          type: "line", xAxisIndex: 0, yAxisIndex: 0, data: powerCurve, z: 4,
          showSymbol: false, symbol: "none", lineStyle: { color: "#ff1a1a", width: 2 }, silent: true,
        },
        {
          type: "scatter", xAxisIndex: 1, yAxisIndex: 1, data: residAll, z: 32,
          symbol: "diamond", symbolSize: 10,
          itemStyle: { color: "rgba(255,255,255,0)", borderColor: "#000080", borderWidth: 2 },
          silent: true,
        },
      ],
      graphic: {
        elements: [
          {
            type: "text", x: 610, y: 670, scaleX: 0.85, z: 5,
            style: {
              text: "Wind Speed (m/s)", fill: "#1a1a1a", font: "bold 30px 'Liberation Sans', Arial, sans-serif",
              align: "center", verticalAlign: "middle", textAlign: "center", textVerticalAlign: "middle",
            },
          },
          {
            type: "text", x: 369, y: 763, scaleX: 0.96, z: 5,
            style: {
              text: "Low Air Density", fill: "#1f3cb0", font: "48px 'Liberation Sans', Arial, sans-serif",
              align: "center", verticalAlign: "middle", textAlign: "center", textVerticalAlign: "middle",
            },
          },
          {
            type: "rect", z: 10,
            shape: { x: 773, y: 186, width: 337, height: 129 },
            style: { fill: "#ffffff", stroke: "#000", lineWidth: 2.5 },
          },
          {
            type: "rect", z: 20,
            shape: { x: 781, y: 200, width: 1200, height: 800 },
            style: { fill: "#ffffff", stroke: "#000", lineWidth: 3 },
          },
          {
            type: "text", x: 831, y: 538, rotation: Math.PI / 2, z: 40,
            style: {
              text: "Residual Power (%)", fill: "#000", font: "bold 28px 'Liberation Sans', Arial, sans-serif",
              align: "center", verticalAlign: "middle", textAlign: "center", textVerticalAlign: "middle",
            },
          },
          {
            type: "text", x: 1352, y: 893, z: 40,
            style: {
              text: "Temperature", fill: "#000", font: "bold 26px 'Liberation Sans', Arial, sans-serif",
              align: "center", verticalAlign: "middle", textAlign: "center", textVerticalAlign: "middle",
            },
          },
        ],
      },
    };

    chart.setOption(option);
    return () => chart.dispose();
  }, []);

  return (
    <div
      ref={ref}
      style={{ position: "fixed", left: 0, top: 0, width: 1883, height: 913, background: "#fff" }}
    />
  );
}
